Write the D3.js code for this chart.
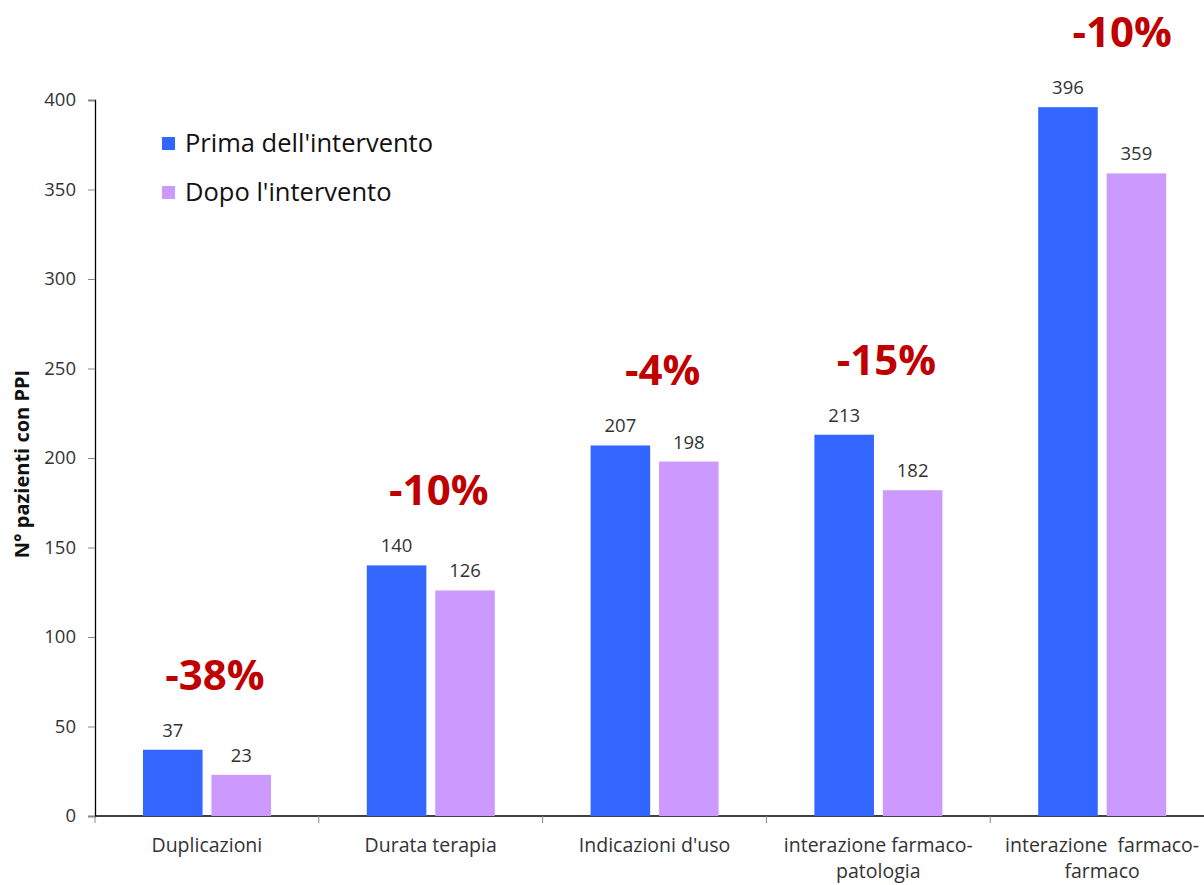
<!DOCTYPE html>
<html>
<head>
<meta charset="utf-8">
<script src="https://cdn.jsdelivr.net/npm/d3@7"></script>
<style>
  body { margin: 0; background: #fff; }
  text { font-family: "Open Sans", "Noto Sans", sans-serif; }
</style>
</head>
<body>
<div id="chart"></div>
<script>
// categories (second line of label after "|")
var categories = ["Duplicazioni", "Durata terapia", "Indicazioni d'uso", "interazione farmaco-|patologia", "interazione  farmaco-|farmaco"];
var series = ["Prima dell'intervento", "Dopo l'intervento"];
var prima = [37, 140, 207, 213, 396];
var dopo = [23, 126, 198, 182, 359];
var change = ["-38%", "-10%", "-4%", "-15%", "-10%"];
var yTicks = [0, 50, 100, 150, 200, 250, 300, 350, 400];
var colors = ["#3366ff", "#cc99ff"];

var width = 1204, height = 885;
var margin = { top: 100, left: 95, bottom: 69 };

var svg = d3.select("#chart")
  .append("svg")
  .attr("width", width)
  .attr("height", height);

// y scale
var y = d3.scaleLinear()
  .domain([0, 400])
  .range([height - margin.bottom, margin.top]);

// x band per category, runs a bit past the right edge like the original
var x = d3.scaleBand()
  .domain(categories)
  .range([margin.left, margin.left + 5 * 223.8])
  .padding(0);

// inner scale for the two series
var x1 = d3.scaleBand()
  .domain(series)
  .range([48, 176])
  .paddingInner(0.13);

// y axis
var yAxis = svg.append("g")
  .attr("transform", "translate(" + margin.left + ",0)")
  .call(d3.axisLeft(y).tickValues(yTicks).tickSize(7).tickPadding(12))
yAxis.select(".domain").attr("stroke", "#000").attr("stroke-width", 1.3)
yAxis.selectAll(".tick line").attr("stroke", "#888")
yAxis.selectAll(".tick text")
  .style("font-size", "18.5px")
  .attr("fill", "#333")

// x axis line + tick marks on band edges
svg.append("line")
  .attr("x1", margin.left).attr("x2", width)
  .attr("y1", y(0)).attr("y2", y(0))
  .attr("stroke", "#000").attr("stroke-width", 1.3)

svg.selectAll(".xtick")
  .data(categories)
  .enter()
  .append("line")
  .attr("x1", function (d) { return x(d) })
  .attr("x2", function (d) { return x(d) })
  .attr("y1", y(0))
  .attr("y2", y(0) + 7)
  .attr("stroke", "#888")

// x labels
var xl = svg.selectAll(".xlabel")
  .data(categories)
  .enter()
  .append("text")
  .attr("text-anchor", "middle")
  .attr("fill", "#333")
  .style("font-size", "19.5px")
  .style("white-space", "pre")
  .attr("x", function (d) { return x(d) + x.bandwidth() / 2 })
  .attr("y", y(0) + 36)
xl.each(function (d) {
  var parts = d.split("|");
  var t = d3.select(this);
  parts.forEach(function (p, i) {
    t.append("tspan")
      .attr("x", x(d) + x.bandwidth() / 2)
      .attr("dy", i == 0 ? 0 : 26)
      .text(p)
  })
})

// bars
var rows = categories.map(function (c, i) { return { cat: c, vals: [prima[i], dopo[i]], change: change[i] } });

var groups = svg.selectAll(".grp")
  .data(rows)
  .enter()
  .append("g")
  .attr("transform", function (d) { return "translate(" + x(d.cat) + ",0)" })

groups.selectAll("rect")
  .data(function (d) { return d.vals.map(function (v, i) { return { s: series[i], v: v, i: i } }) })
  .enter()
  .append("rect")
  .attr("x", function (d) { return x1(d.s) })
  .attr("y", function (d) { return y(d.v) })
  .attr("width", x1.bandwidth())
  .attr("height", function (d) { return y(0) - y(d.v) })
  .attr("fill", function (d) { return colors[d.i] })

// value labels
groups.selectAll(".val")
  .data(function (d) { return d.vals.map(function (v, i) { return { s: series[i], v: v } }) })
  .enter()
  .append("text")
  .attr("text-anchor", "middle")
  .attr("fill", "#333")
  .style("font-size", "18.5px")
  .attr("x", function (d) { return x1(d.s) + x1.bandwidth() / 2 })
  .attr("y", function (d) { return y(d.v) - 13 })
  .text(function (d) { return d.v })

// percentage change labels
groups.append("text")
  .attr("text-anchor", "middle")
  .attr("fill", "#c00000")
  .style("font-size", "42px")
  .style("font-weight", "bold")
  .attr("x", function (d, i) { return i == 4 ? 132 : 120 })
  .attr("y", function (d) { return y(d.vals[0]) - 60 })
  .text(function (d) { return d.change })

// legend
var legend = svg.selectAll(".leg")
  .data(series)
  .enter()
  .append("g")
  .attr("transform", function (d, i) { return "translate(162," + (137 + i * 49) + ")" })
legend.append("rect")
  .attr("width", 13).attr("height", 13)
  .attr("fill", function (d, i) { return colors[i] })
legend.append("text")
  .attr("x", 23).attr("y", 6)
  .attr("dy", "0.35em")
  .attr("fill", "#111")
  .style("font-size", "25.5px")
  .text(function (d) { return d })

// y title
svg.append("text")
  .attr("transform", "translate(22," + 464 + ") rotate(-90)")
  .attr("text-anchor", "middle")
  .attr("dy", "0.35em")
  .style("font-size", "20px")
  .style("font-weight", "bold")
  .attr("fill", "#111")
  .text("N° pazienti con PPI")
</script>
</body>
</html>
